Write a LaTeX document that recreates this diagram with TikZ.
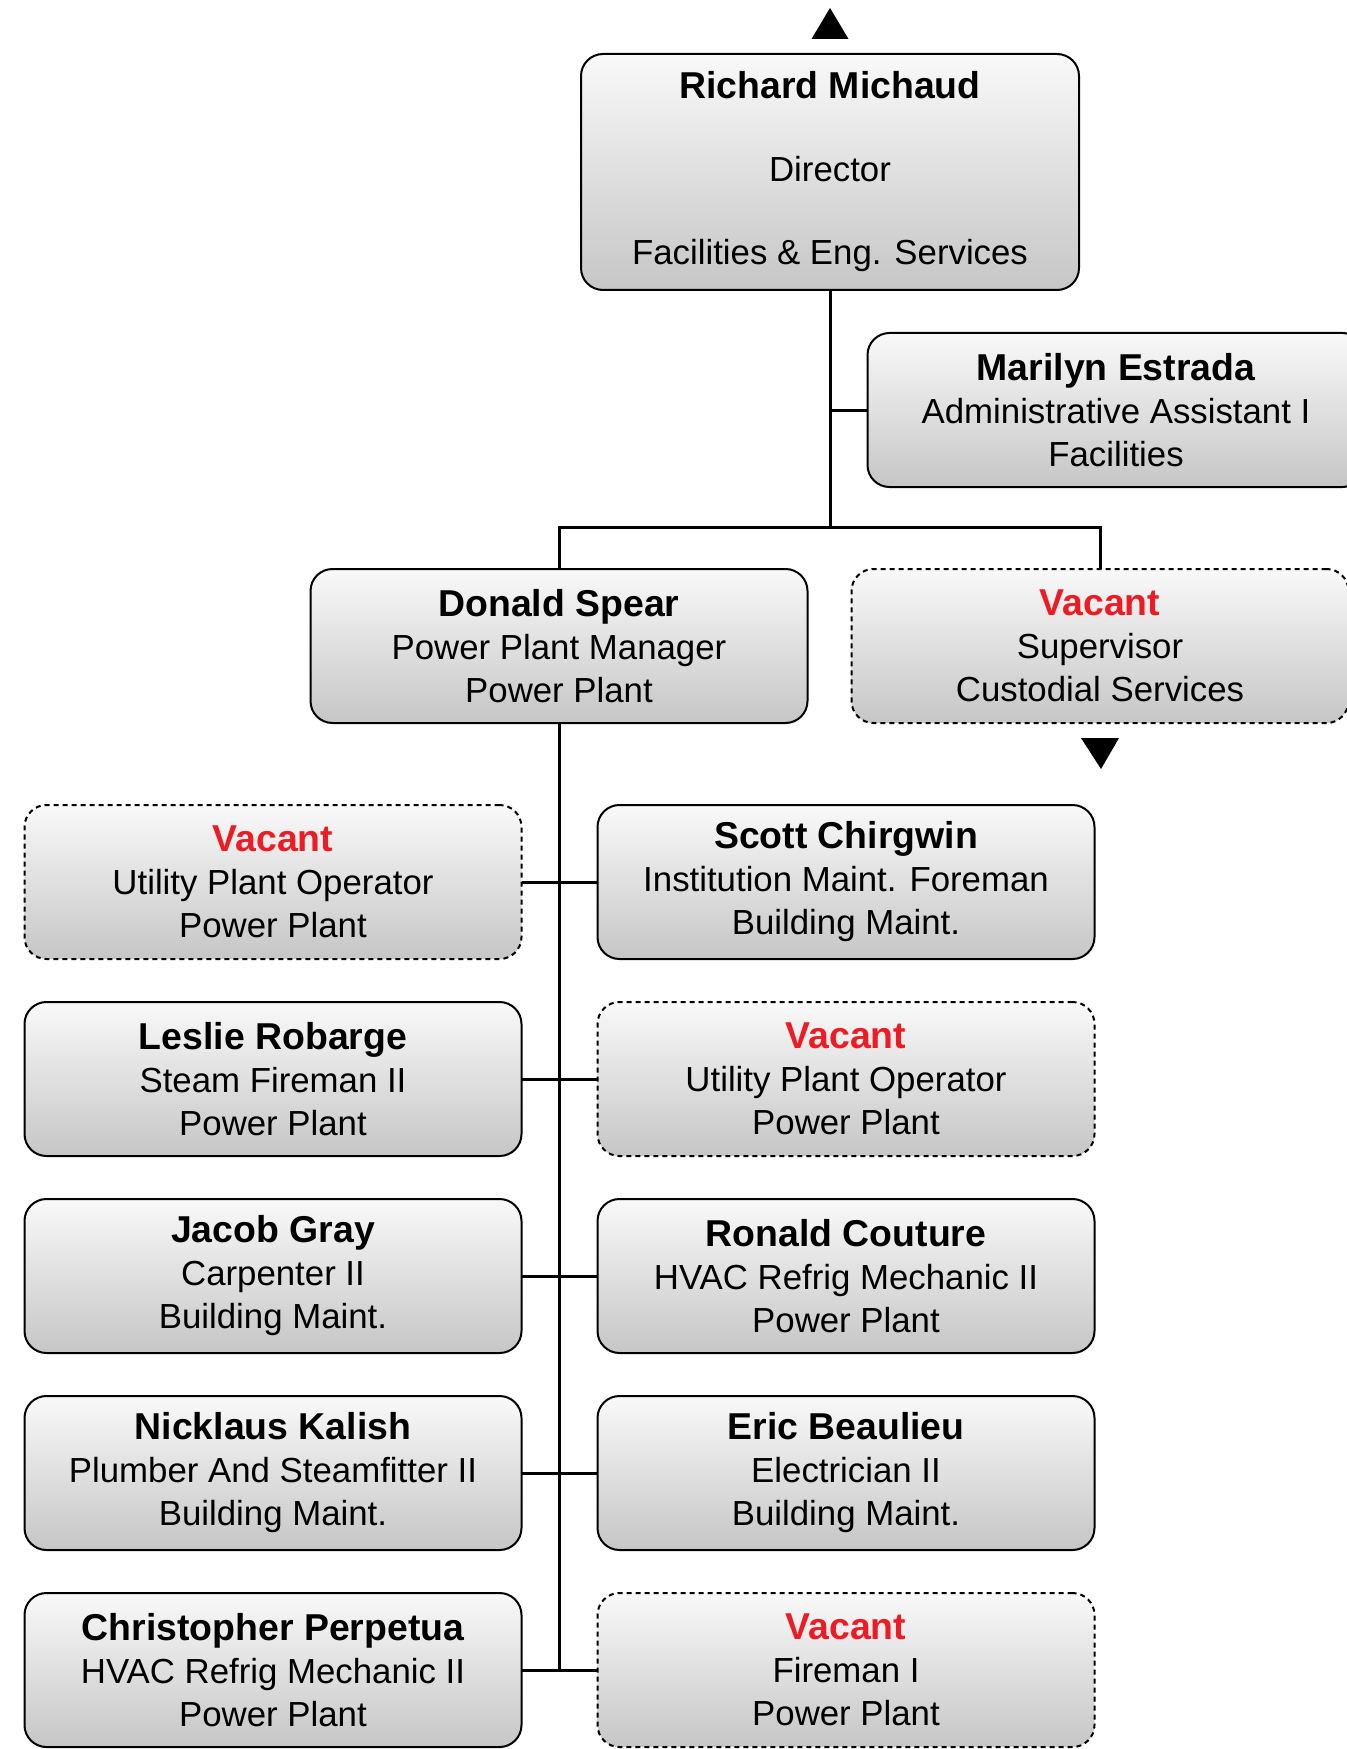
\documentclass[tikz,border=0pt]{standalone}
\usepackage{fontspec}
\setmainfont{Liberation Sans}
\usetikzlibrary{arrows.meta,positioning,calc}
\tikzset{
  >=Stealth,
  every picture/.append style={line width=1pt},
  every node/.append style={font=\fontsize{17.4}{21.5}\selectfont},
}
\newcommand{\who}[1]{{\fontsize{18.7}{21.5}\selectfont\bfseries #1}}
\newcommand{\vacancy}{\who{\textcolor{vacantred}{Vacant}}}

\begin{document}
\begin{tikzpicture}[
    x=0.5pt, y=-0.5pt,
    node distance=21.5pt and 38pt,
    person/.style={
        rectangle,
        draw=black,
        line width=1pt,
        rounded corners=11pt,
        top color=boxtop,
        bottom color=boxbottom,
        minimum width=248.5pt,
        minimum height=77pt,
        inner sep=0pt,
        outer sep=0pt,
        align=center
    },
    vacant/.style={
        person,
        dash pattern=on 2.5pt off 2pt
    },
    link/.style={
        line width=1.5pt,
        draw=black
    }
]
% Color definitions
\definecolor{boxtop}{RGB}{249,249,249}
\definecolor{boxbottom}{RGB}{198,198,198}
\definecolor{vacantred}{RGB}{237,28,36}

\clip (0,0) rectangle (1347,1749);

% Top of the chart
\node[person, minimum width=249pt, minimum height=118pt] (director) at (830,172)
    {\who{Richard Michaud}\\[20pt]Director\\[20pt]Facilities \& Eng. Services};
\node[person] (marilyn) at (1116,410)
    {\who{Marilyn Estrada}\\Administrative Assistant I\\Facilities};
\node[person] (donald) at (559,646)
    {\who{Donald Spear}\\Power Plant Manager\\Power Plant};
\node[vacant, right=22pt of donald] (custodial)
    {\vacancy\\Supervisor\\Custodial Services};

% Power plant staff
\node[vacant] (r1l) at (273,882)
    {\vacancy\\Utility Plant Operator\\Power Plant};
\node[person, right=of r1l] (r1r)
    {\who{Scott Chirgwin}\\Institution Maint. Foreman\\Building Maint.};
\node[person, below=of r1l] (r2l)
    {\who{Leslie Robarge}\\Steam Fireman II\\Power Plant};
\node[vacant, right=of r2l] (r2r)
    {\vacancy\\Utility Plant Operator\\Power Plant};
\node[person, below=of r2l] (r3l)
    {\who{Jacob Gray}\\Carpenter II\\Building Maint.};
\node[person, right=of r3l] (r3r)
    {\who{Ronald Couture}\\HVAC Refrig Mechanic II\\Power Plant};
\node[person, below=of r3l] (r4l)
    {\who{Nicklaus Kalish}\\Plumber And Steamfitter II\\Building Maint.};
\node[person, right=of r4l] (r4r)
    {\who{Eric Beaulieu}\\Electrician II\\Building Maint.};
\node[person, below=of r4l] (r5l)
    {\who{Christopher Perpetua}\\HVAC Refrig Mechanic II\\Power Plant};
\node[vacant, right=of r5l] (r5r)
    {\vacancy\\Fireman I\\Power Plant};

% More-above / more-below markers
\fill ($(director.north)+(-18.5,-15)$) -- ($(director.north)+(18.5,-15)$)
    -- ($(director.north)+(0,-46)$) -- cycle;
\fill ($(custodial.south)+(-19,15)$) -- ($(custodial.south)+(19,15)$)
    -- ($(custodial.south)+(1,46)$) -- cycle;

% Reporting lines
\coordinate (bus) at (830,527);
\draw[link] (director.south) -- (bus);
\draw[link] (marilyn.west) -- (marilyn.west -| bus);
\draw[link] (donald.north) |- (bus) -| (custodial.north);
\draw[link] (donald.south) -- (donald.south |- r5l.east);
\foreach \row in {1,...,5}
  \draw[link] (r\row l.east) -- (r\row r.west);
\end{tikzpicture}
\end{document}
